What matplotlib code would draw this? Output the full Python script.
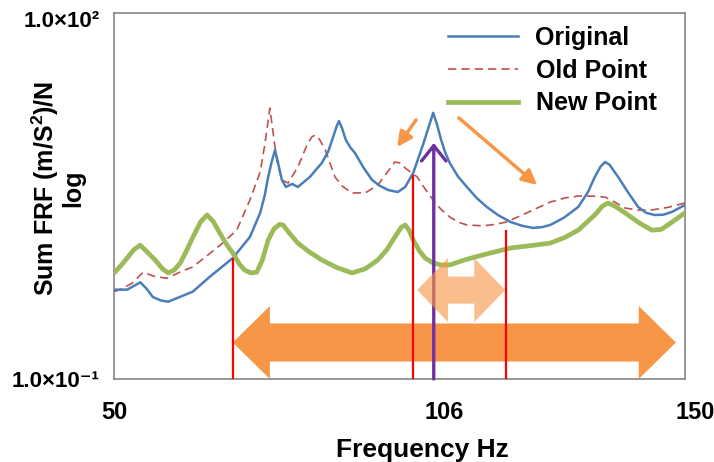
import matplotlib.pyplot as plt
import matplotlib.patches as mpatches
import matplotlib.transforms as mtransforms

plt.rcParams['font.family'] = ['Liberation Sans', 'DejaVu Sans']
plt.rcParams['font.weight'] = 'bold'
plt.rcParams['mathtext.fontset'] = 'custom'
plt.rcParams['mathtext.rm'] = 'Liberation Sans:bold'
plt.rcParams['mathtext.default'] = 'rm'

# Original
freq_orig = [50, 52.3, 53.5, 54.6, 55.7, 56.8, 58.2, 59.5, 61.5, 63.8, 66.8, 70.8, 73.8, 75.6,
             76.4, 77.0, 77.6, 78.2, 78.7, 79.4, 80.1, 81.2, 82.2, 84.3, 86.4, 87.5, 88.2,
             89.0, 89.4, 89.9, 90.6, 91.4, 92.2, 93.7, 95.2, 96.5, 98.0, 99.7, 101.0, 102.4,
             104.1, 105.2, 105.9, 106.5, 107.3, 108.0, 108.8, 110.2, 111.8, 113.5, 115.3,
             117.3, 119.4, 121.5, 123.4, 125.0, 126.4, 128.8, 131.3, 133.0, 134.2, 135.2,
             136.0, 136.8, 137.5, 138.3, 140.0, 141.8, 143.2, 144.7, 146.2, 147.7, 150]
frf_orig = [0.54, 0.54, 0.58, 0.62, 0.55, 0.47, 0.44, 0.43, 0.47, 0.52, 0.69, 0.98, 1.46, 2.30,
            3.2, 4.53, 6.0, 7.53, 6.0, 4.28, 3.75, 3.97, 3.75, 4.53, 5.90, 7.3, 9.1,
            11.8, 13.0, 11.5, 9.1, 7.9, 7.12, 5.4, 4.28, 3.85, 3.54, 3.41, 3.75, 4.88,
            8.28, 12.0, 15.2, 12.5, 9.1, 7.2, 5.90, 4.6, 3.75, 3.05, 2.57,
            2.2, 1.94, 1.80, 1.73, 1.76, 1.83, 2.1, 2.57, 3.4, 4.53, 5.5,
            6.01, 5.7, 5.1, 4.53, 3.4, 2.57, 2.3, 2.21, 2.22, 2.34, 2.67]

# Old Point
freq_old = [50, 51.05, 53.2, 55.1, 57.2, 59.3, 61.5, 63.8, 66.0, 68.6, 71.5, 73.8, 75.6, 76.4,
            77.3, 77.8, 78.5, 79.4, 80.5, 82.2, 83.8, 84.6, 85.2, 86.0, 87.0, 88.7, 90.0,
            91.7, 94.0, 96.2, 97.8, 99.2, 100.1, 101.0, 103.1, 104.5, 105.9, 107.3, 108.8,
            110.3, 111.8, 114.6, 116.7, 118.8, 122.3, 126.4, 129.0, 131.3, 134.0, 136.0,
            137.8, 139.5, 142.0, 144.2, 147.0, 150]
frf_old = [0.52, 0.54, 0.61, 0.75, 0.69, 0.67, 0.75, 0.83, 1.0, 1.25, 1.66, 2.93, 4.98, 8.28,
           16.6, 11.0, 6.24, 4.28, 4.04, 5.47, 8.28, 9.6, 10.0, 9.2, 7.53, 4.53, 3.8,
           3.35, 3.35, 3.89, 4.9, 6.01, 5.9, 5.36, 4.53, 3.6, 2.93, 2.45, 2.13,
           1.93, 1.83, 1.80, 1.85, 1.94, 2.30, 2.82, 3.05, 3.16, 3.15, 3.10,
           2.8, 2.52, 2.42, 2.43, 2.55, 2.77]

# New Point
freq_new = [50, 51.3, 52.3, 53.5, 54.6, 55.8, 57.2, 58.5, 59.5, 60.5, 61.6, 62.8, 63.8, 65.2,
            66.3, 67.4, 68.6, 69.8, 70.8, 72.0, 72.9, 74.0, 75.0, 76.0, 77.0, 78.0, 79.0,
            79.6, 80.8, 82.2, 84.2, 86.4, 89.0, 91.7, 94.0, 96.2, 97.8, 99.2, 100.3, 101.0,
            101.7, 102.4, 103.5, 104.5, 105.9, 107.3, 108.8, 111.5, 114.6, 119.4, 123.0,
            126.4, 129.0, 131.3, 134.2, 135.5, 136.5, 137.8, 139.5, 142.0, 144.2, 145.8,
            147.0, 148.5, 150]
frf_new = [0.74, 0.86, 0.98, 1.15, 1.25, 1.1, 0.945, 0.8, 0.74, 0.78, 0.89, 1.15, 1.45, 1.95,
           2.21, 1.95, 1.55, 1.25, 1.08, 0.87, 0.78, 0.74, 0.75, 0.95, 1.38, 1.7, 1.85,
           1.83, 1.55, 1.30, 1.1, 0.945, 0.82, 0.74, 0.8, 0.945, 1.15, 1.46, 1.75, 1.83,
           1.65, 1.38, 1.12, 0.98, 0.893, 0.86, 0.86, 0.95, 1.04, 1.185, 1.24,
           1.30, 1.45, 1.66, 2.21, 2.6, 2.77, 2.6, 2.30, 1.9, 1.66, 1.68,
           1.83, 2.05, 2.30]

# marker lines
red_freqs = [70.8, 102.4, 118.6]
red_tops = [0.98, 4.70, 1.66]
purple_freq = 106
purple_top = 8.6

xticks = [50, 106, 150]
yticks = [0.1, 100]
ytick_labels = ['1.0×10⁻¹', '1.0×10²']

fig = plt.figure(figsize=(7.14, 4.62), dpi=100)
ax = fig.add_axes([114 / 714, 1 - 379 / 462, 571 / 714, 366 / 462])

ax.plot(freq_orig, frf_orig, color='#4A7EBB', lw=1.8, label='Original', zorder=4)
ax.plot(freq_old, frf_old, color='#C0504D', lw=1.2, dashes=(5, 3), label='Old Point', zorder=3)
ax.plot(freq_new, frf_new, color='#9BBB59', lw=3.4, label='New Point', zorder=4)

ax.set_yscale('log')
ax.set_xlim(50, 150)
ax.set_ylim(0.1, 100)
ax.set_xticks(xticks)
ax.set_xticklabels([str(t) for t in xticks], fontsize=17, fontweight='bold')
ax.set_yticks(yticks)
ax.set_yticklabels(ytick_labels, fontsize=16, fontweight='bold')
ax.minorticks_off()
ax.tick_params(axis='x', length=0, pad=16)
ax.tick_params(axis='y', length=0, pad=10)
for sp in ax.spines.values():
    sp.set_color('#868686')
    sp.set_linewidth(1.2)

# nudge tick labels like the original
shift_r = mtransforms.ScaledTranslation(10 / 100, 0, fig.dpi_scale_trans)
for lbl in ax.get_xticklabels()[1:]:
    lbl.set_transform(lbl.get_transform() + shift_r)
shift_d = mtransforms.ScaledTranslation(0, -6 / 100, fig.dpi_scale_trans)
top_lbl = ax.get_yticklabels()[1]
top_lbl.set_transform(top_lbl.get_transform() + shift_d)

ax.set_xlabel('Frequency Hz', fontsize=19, fontweight='bold')
ax.xaxis.set_label_coords(0.54, -0.16)
ax.set_ylabel('Sum FRF (m/S$^2$)/N\nlog', fontsize=18, fontweight='bold', linespacing=1.0)
ax.yaxis.set_label_coords(-0.05, 0.52)

# red and purple vertical lines
ax.vlines(red_freqs, 0.1, red_tops, color='#FF0000', lw=1.6, zorder=5)
ax.annotate('', xy=(purple_freq, purple_top), xytext=(purple_freq, 0.1),
            arrowprops=dict(arrowstyle='->, head_length=0.5, head_width=0.4',
                            color='#7030A0', lw=2.4, mutation_scale=22,
                            shrinkA=0, shrinkB=0), zorder=5)

# block double arrows: x in data, y in axes fraction
trans = mtransforms.blended_transform_factory(ax.transData, ax.transAxes)


def double_arrow(x0, x1, yc, sh, hh, hl, color, alpha, z):
    pts = [(x0, yc), (x0 + hl, yc + hh), (x0 + hl, yc + sh), (x1 - hl, yc + sh),
           (x1 - hl, yc + hh), (x1, yc), (x1 - hl, yc - hh), (x1 - hl, yc - sh),
           (x0 + hl, yc - sh), (x0 + hl, yc - hh)]
    ax.add_patch(mpatches.Polygon(pts, closed=True, transform=trans, color=color,
                                  alpha=alpha, lw=0, zorder=z, clip_on=False))


double_arrow(70.8, 148.4, 0.0997, 0.052, 0.0997, 6.5, '#F79646', 1.0, 2)
double_arrow(103.1, 118.5, 0.243, 0.037, 0.0874, 5.4, '#F79646', 0.62, 6)

# thin orange arrows
ax.annotate('', xy=(99.6, 7.98), xytext=(102.9, 13.3),
            arrowprops=dict(arrowstyle='-|>', color='#F79646', lw=2.5, mutation_scale=22,
                            shrinkA=0, shrinkB=0))
ax.annotate('', xy=(124.1, 3.89), xytext=(110.4, 13.8),
            arrowprops=dict(arrowstyle='-|>', color='#F79646', lw=2.5, mutation_scale=22,
                            shrinkA=0, shrinkB=0))

ax.legend(loc='upper left', bbox_to_anchor=(448 / 714, 1 - 26 / 462),
          bbox_transform=fig.transFigure, frameon=False, fontsize=18,
          handlelength=2.8, handletextpad=0.7, labelspacing=0.35,
          borderpad=0, borderaxespad=0)

fig.savefig('out.png', dpi=100)
